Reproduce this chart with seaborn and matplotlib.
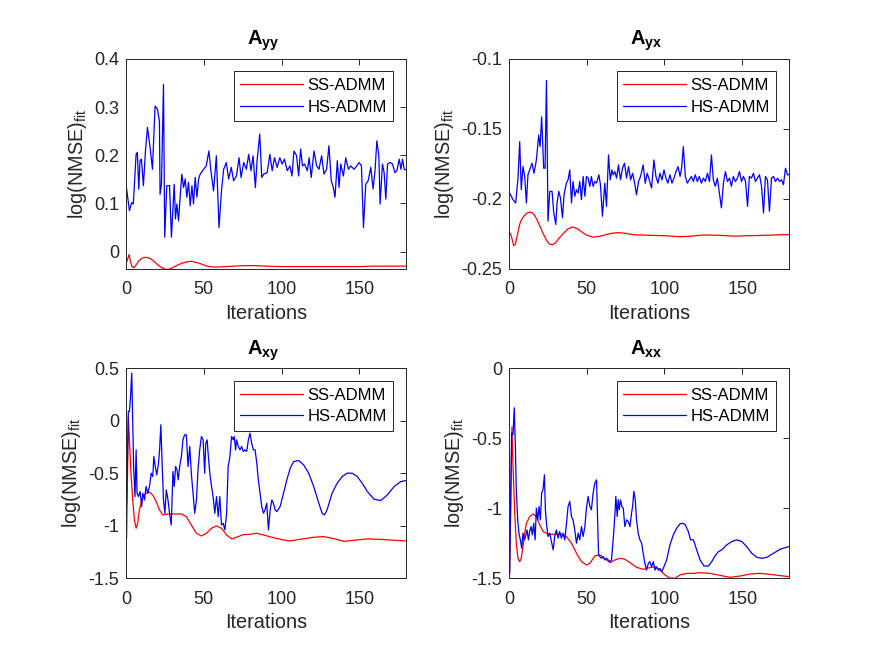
"""
Convergence of log(NMSE)_fit for SS-ADMM and HS-ADMM on the four blocks
A_yy, A_yx, A_xy, A_xx (values read off the original figure).
"""
import matplotlib
matplotlib.use('Agg')
import matplotlib.pyplot as plt
import seaborn as sns
from matplotlib.ticker import FuncFormatter

# --- Data ---
# A_yy
ss_yy_x = [0, 2, 3, 4, 5, 6, 8, 10, 12, 14, 16, 18, 20, 22, 24, 26, 28, 30, 33, 36, 39, 42, 45, 48,
           51, 54, 58, 64, 70, 76, 82, 90, 100, 110, 120, 130, 140, 150, 160, 170, 180]
ss_yy_y = [-0.026, -0.006, -0.022, -0.032, -0.033, -0.030, -0.020, -0.014, -0.012, -0.012, -0.015,
           -0.020, -0.026, -0.031, -0.035, -0.037, -0.036, -0.033, -0.028, -0.024, -0.021, -0.020,
           -0.022, -0.025, -0.029, -0.031, -0.032, -0.031, -0.030, -0.029, -0.029, -0.030, -0.031,
           -0.031, -0.031, -0.031, -0.031, -0.031, -0.030, -0.030, -0.030]
hs_yy_x = [0, 2.2, 3.7, 4.7, 6.5, 7.3, 8.2, 9, 9.9, 11.2,
           12.5, 13.8, 15.5, 17, 18.7, 20.2, 21.5, 21.9, 22.8, 24.1,
           24.9, 26.2, 28, 29.2, 30.1, 31, 31.8, 32.7, 33.8, 34.8,
           35.9, 37, 38.1, 39.1, 40.2, 41.3, 42.4, 43.4, 44.5, 45.6,
           46.7, 47.7, 49.9, 51.6, 53.3, 54.6, 56.3, 58.1, 59.8, 61.5,
           62.8, 64.5, 66, 67.7, 69.2, 71, 72.7, 74, 75.7, 77.4,
           78.9, 80.4, 81.7, 83.2, 84.3, 86, 87.3, 88.6, 90.8, 92.5,
           94, 95.5, 97.2, 98.9, 100.4, 101.9, 103.7, 105.4, 106.7, 108,
           109.7, 111, 112.3, 113.5, 114.8, 116.6, 117.8, 119.1, 120.9, 122.6,
           124.1, 125.8, 127.3, 129, 130.5, 132, 133.3, 134.4, 135.9, 137,
           138.1, 139.8, 141.3, 143, 144.5, 146.7, 148.4, 149.9, 151.4, 152.7,
           154.2, 155.7, 157.4, 158.9, 160.2, 161.3, 162.6, 163.4, 164.9, 166,
           167.1, 168.2, 169.9, 171.4, 172.9, 174.2, 175.7, 176.8, 177.8, 178.9,
           180]
hs_yy_y = [0.140, 0.085, 0.102, 0.099, 0.202, 0.206, 0.130, 0.189, 0.192, 0.137,
           0.209, 0.258, 0.216, 0.171, 0.302, 0.296, 0.271, 0.119, 0.140, 0.347,
           0.030, 0.137, 0.137, 0.030, 0.085, 0.140, 0.068, 0.099, 0.064, 0.113,
           0.161, 0.133, 0.151, 0.113, 0.144, 0.095, 0.137, 0.099, 0.154, 0.113,
           0.151, 0.161, 0.171, 0.178, 0.209, 0.168, 0.126, 0.199, 0.050, 0.130,
           0.171, 0.185, 0.151, 0.175, 0.147, 0.157, 0.195, 0.154, 0.185, 0.171,
           0.202, 0.168, 0.199, 0.133, 0.189, 0.244, 0.154, 0.161, 0.164, 0.202,
           0.168, 0.195, 0.175, 0.195, 0.182, 0.192, 0.168, 0.178, 0.157, 0.209,
           0.199, 0.157, 0.213, 0.178, 0.182, 0.168, 0.195, 0.154, 0.209, 0.178,
           0.171, 0.199, 0.161, 0.171, 0.220, 0.147, 0.133, 0.113, 0.189, 0.133,
           0.182, 0.157, 0.195, 0.171, 0.178, 0.171, 0.178, 0.185, 0.178, 0.050,
           0.140, 0.147, 0.175, 0.130, 0.171, 0.230, 0.199, 0.099, 0.182, 0.164,
           0.109, 0.182, 0.185, 0.182, 0.164, 0.168, 0.192, 0.171, 0.192, 0.171,
           0.170]

# A_yx
ss_yx_x = [0, 1, 2, 3, 4, 5, 6, 7, 8, 10, 12, 14, 16, 18, 20, 22, 24, 26, 28, 30, 32, 35, 38, 41,
           44, 47, 50, 54, 58, 62, 66, 70, 75, 80, 90, 100, 110, 118, 125, 135, 145, 155, 165,
           175, 180]
ss_yx_y = [-0.2245, -0.2250, -0.2290, -0.2335, -0.2330, -0.2280, -0.2230, -0.2180, -0.2150,
           -0.2120, -0.2100, -0.2097, -0.2110, -0.2150, -0.2200, -0.2250, -0.2295, -0.2325,
           -0.2330, -0.2315, -0.2285, -0.2250, -0.2215, -0.2203, -0.2215, -0.2240, -0.2262,
           -0.2275, -0.2270, -0.2258, -0.2248, -0.2243, -0.2248, -0.2258, -0.2262, -0.2265,
           -0.2272, -0.2268, -0.2260, -0.2262, -0.2268, -0.2265, -0.2262, -0.2258, -0.2257]
hs_yx_x = [0.4, 2.6, 4.3, 5.8, 6.9, 7.9, 9.0, 10.1, 11.2, 12.2,
           13.3, 14.8, 16.1, 17.6, 19.1, 20.0, 21.0, 22.3, 23.2, 24.1,
           25.1, 26.2, 27.7, 28.8, 30.1, 30.9, 32.0, 33.1, 34.4, 35.4,
           36.9, 38.0, 39.1, 40.2, 41.2, 42.3, 43.4, 44.5, 45.5, 46.6,
           47.7, 48.8, 49.8, 50.9, 52.0, 53.0, 54.1, 55.2, 56.3, 57.8,
           58.8, 60.1, 61.6, 62.7, 64.0, 65.1, 66.2, 67.0, 68.1, 69.2,
           70.4, 71.7, 73.0, 74.3, 75.6, 76.9, 78.2, 79.5, 80.8, 82.0,
           83.3, 84.6, 86.3, 87.6, 88.9, 90.2, 91.7, 93.2, 94.5, 95.8,
           97.1, 98.4, 99.7, 100.9, 102.2, 103.5, 104.8, 106.1, 107.4, 108.7,
           110.0, 111.0, 112.1, 113.4, 114.7, 116.0, 117.3, 118.6, 119.8, 121.1,
           122.4, 123.7, 125.0, 126.3, 127.6, 128.9, 130.2, 131.4, 132.7, 134.0,
           135.3, 136.6, 137.9, 139.2, 140.5, 141.8, 143.0, 144.3, 145.6, 146.9,
           148.2, 149.5, 150.8, 152.1, 153.4, 154.6, 155.9, 157.2, 158.5, 159.8,
           161.1, 162.4, 163.7, 164.9, 166.2, 167.5, 168.8, 170.1, 171.4, 172.7,
           174.0, 175.3, 176.5, 177.8, 179.1, 180]
hs_yx_y = [-0.1960, -0.2007, -0.2031, -0.1853, -0.1592, -0.1936, -0.1770, -0.1841, -0.2031, -0.1829,
           -0.1794, -0.1746, -0.1818, -0.1723, -0.1545, -0.1628, -0.1415, -0.1782, -0.1782, -0.1154,
           -0.2161, -0.1948, -0.1948, -0.2102, -0.2185, -0.2031, -0.1948, -0.1995, -0.2137, -0.1972,
           -0.1889, -0.1865, -0.1794, -0.2031, -0.1877, -0.1983, -0.1936, -0.1960, -0.1877, -0.2007,
           -0.1841, -0.1983, -0.1841, -0.1853, -0.1912, -0.1841, -0.1912, -0.1877, -0.1889, -0.1829,
           -0.1900, -0.2126, -0.1889, -0.2055, -0.1687, -0.1865, -0.1794, -0.1829, -0.1806, -0.1853,
           -0.1758, -0.1865, -0.1782, -0.1746, -0.1853, -0.1770, -0.1865, -0.1818, -0.1889, -0.1972,
           -0.1877, -0.1841, -0.1758, -0.1889, -0.1818, -0.1865, -0.1924, -0.1723, -0.1841, -0.1889,
           -0.1818, -0.1865, -0.1794, -0.1853, -0.1889, -0.1829, -0.1889, -0.1853, -0.1806, -0.1770,
           -0.1841, -0.1782, -0.1628, -0.1841, -0.1889, -0.1865, -0.1841, -0.1877, -0.1829, -0.1877,
           -0.1841, -0.1889, -0.1853, -0.1877, -0.1818, -0.1877, -0.1687, -0.1865, -0.1912, -0.1853,
           -0.1960, -0.2066, -0.1889, -0.1806, -0.1877, -0.1853, -0.1912, -0.1841, -0.1877, -0.1853,
           -0.1806, -0.1877, -0.1841, -0.1877, -0.2055, -0.1841, -0.1853, -0.1818, -0.1877, -0.1853,
           -0.1829, -0.1912, -0.2102, -0.1841, -0.1865, -0.2090, -0.1853, -0.1841, -0.1877, -0.1853,
           -0.1877, -0.1865, -0.1900, -0.1782, -0.1829, -0.1829]

# A_xy
ss_xy_x = [0.4, 1.5, 2.2, 3.2, 4.3, 5.4, 6.5, 7.5, 8.6, 9.7, 10.8, 12.9, 15.1, 17.2, 19.4, 21.5,
           23.7, 26.9, 31.3, 35.6, 38.8, 42.0, 45.3, 48.5, 51.7, 55.0, 58.2, 61.4, 64.7, 67.9,
           71.1, 75.4, 79.7, 84.0, 88.4, 94.8, 101.3, 105.6, 112.0, 120.7, 127.2, 133.6, 140.1,
           146.6, 155.2, 163.8, 172.4, 180]
ss_xy_y = [-1.121, 0.041, -0.182, -0.500, -0.755, -0.946, -1.025, -0.978, -0.850, -0.787,
           -0.723, -0.691, -0.682, -0.707, -0.771, -0.850, -0.898, -0.889, -0.889, -0.889,
           -0.914, -0.994, -1.073, -1.099, -1.073, -1.025, -1.003, -1.025, -1.089, -1.127,
           -1.111, -1.086, -1.083, -1.073, -1.089, -1.115, -1.137, -1.146, -1.131, -1.111,
           -1.105, -1.124, -1.150, -1.140, -1.127, -1.131, -1.140, -1.146]
hs_xy_x = [0.4, 1.5, 2.2, 2.8, 3.7, 4.3, 4.9, 5.8, 6.5, 7.1,
           8.0, 9.1, 10.1, 10.8, 11.9, 12.9, 14.0, 15.1, 16.2, 17.2,
           17.9, 18.8, 19.8, 20.9, 21.6, 22.4, 23.3, 24.1, 25.0, 25.9,
           27.0, 28.0, 29.1, 30.2, 31.0, 31.9, 32.8, 33.6, 34.5, 35.6,
           36.6, 37.7, 38.8, 39.9, 41.0, 42.0, 43.1, 44.2, 45.3, 46.3,
           47.4, 48.5, 49.6, 50.6, 51.3, 52.2, 52.8, 53.9, 55.0, 56.0,
           57.1, 58.2, 59.3, 60.3, 61.4, 62.5, 63.6, 64.7, 65.7, 66.8,
           67.9, 69.0, 69.6, 70.5, 71.1, 72.2, 73.3, 74.4, 75.4, 76.5,
           77.6, 78.7, 79.7, 80.8, 81.9, 83.0, 84.1, 85.1, 86.2, 87.3,
           88.4, 89.4, 90.5, 91.6, 92.7, 93.8, 94.8, 95.9, 97.0, 99.1,
           101.3, 103.4, 105.6, 107.8, 111.0, 114.2, 117.5, 120.7, 124.0, 126.1,
           127.6, 129.3, 132.5, 135.8, 139.0, 142.2, 145.5, 148.7, 151.9, 155.2,
           159.5, 163.8, 168.1, 172.4, 176.7, 180]
hs_xy_y = [-0.787, 0.089, 0.089, 0.201, 0.455, 0.010, -0.436, -0.723, -0.277, -0.691,
           -0.723, -0.675, -0.818, -0.691, -0.755, -0.627, -0.691, -0.627, -0.500, -0.532,
           -0.341, -0.436, -0.516, -0.404, -0.277, -0.038, -0.436, -0.755, -0.882, -0.659,
           -0.755, -0.882, -0.994, -0.484, -0.627, -0.436, -0.468, -0.564, -0.436, -0.341,
           -0.182, -0.134, -0.134, -0.436, -0.245, -0.500, -0.691, -0.882, -0.755, -0.468,
           -0.277, -0.150, -0.182, -0.500, -0.213, -0.182, -0.309, -0.500, -0.627, -0.723,
           -0.882, -0.723, -0.914, -0.723, -0.994, -0.978, -1.041, -0.882, -0.436, -0.341,
           -0.150, -0.182, -0.150, -0.277, -0.182, -0.245, -0.277, -0.245, -0.293, -0.277,
           -0.293, -0.182, -0.118, -0.213, -0.277, -0.277, -0.404, -0.564, -0.691, -0.818,
           -0.882, -0.850, -0.787, -1.041, -0.850, -0.755, -0.787, -0.850, -0.866, -0.818,
           -0.691, -0.564, -0.452, -0.389, -0.379, -0.420, -0.500, -0.627, -0.787, -0.882,
           -0.898, -0.850, -0.691, -0.596, -0.532, -0.500, -0.500, -0.532, -0.596, -0.675,
           -0.748, -0.761, -0.707, -0.627, -0.580, -0.570]

# A_xx
ss_xx_x = [0.4, 1.9, 2.6, 3.7, 4.7, 5.8, 6.9, 7.9, 9.0, 10.1, 11.2, 13.3, 15.5, 17.6, 19.8, 21.9,
           25.1, 29.4, 33.7, 36.9, 40.2, 43.4, 46.6, 49.8, 52.0, 55.2, 58.4, 61.6, 64.9, 68.1,
           71.3, 74.5, 77.8, 82.0, 86.3, 90.6, 93.9, 97.1, 100.3, 103.5, 106.7, 110.0, 114.3,
           118.6, 122.9, 129.3, 135.7, 142.1, 148.6, 155.0, 161.5, 167.9, 174.4, 180]
ss_xx_y = [-1.478, -0.419, -0.701, -1.036, -1.251, -1.359, -1.383, -1.359, -1.275, -1.179,
           -1.108, -1.060, -1.041, -1.060, -1.120, -1.167, -1.187, -1.187, -1.184, -1.203,
           -1.251, -1.323, -1.383, -1.407, -1.395, -1.342, -1.335, -1.359, -1.390, -1.371,
           -1.359, -1.366, -1.390, -1.423, -1.438, -1.426, -1.419, -1.443, -1.478, -1.500,
           -1.502, -1.478, -1.467, -1.467, -1.462, -1.467, -1.481, -1.495, -1.486, -1.471,
           -1.467, -1.474, -1.483, -1.490]
hs_xx_x = [0.4, 1.7, 2.6, 3.4, 4.1, 4.7, 5.6, 6.4, 7.3, 8.2,
           9.0, 9.9, 10.7, 11.6, 12.5, 13.3, 14.2, 15.0, 15.9, 16.8,
           17.6, 18.5, 19.3, 20.2, 21.0, 21.9, 22.8, 23.4, 24.1, 25.1,
           26.2, 27.3, 28.4, 29.4, 30.5, 31.6, 32.6, 33.7, 34.8, 35.9,
           36.9, 38.0, 39.1, 40.2, 41.2, 42.3, 43.4, 44.5, 45.5, 46.6,
           47.7, 48.8, 49.8, 50.9, 52.0, 53.0, 54.1, 55.2, 56.3, 56.9,
           57.6, 58.4, 59.5, 60.6, 61.6, 62.7, 63.8, 64.9, 65.9, 67.0,
           68.1, 68.7, 69.6, 70.2, 70.9, 71.7, 72.6, 73.5, 74.5, 75.6,
           76.7, 77.8, 78.8, 79.5, 80.3, 81.2, 82.0, 83.1, 84.2, 85.3,
           86.3, 87.4, 88.5, 89.6, 90.6, 91.7, 92.8, 93.9, 94.9, 96.0,
           97.1, 98.2, 99.2, 101.4, 103.5, 105.7, 107.8, 110.0, 111.7, 113.4,
           115.3, 116.8, 118.6, 120.7, 122.9, 125.4, 128.2, 130.4, 132.5, 134.7,
           136.8, 140.0, 143.3, 146.5, 149.7, 152.9, 156.1, 159.4, 162.6, 165.8,
           170.1, 174.4, 180]
hs_xx_y = [-1.467, -0.462, -0.474, -0.282, -0.557, -0.868, -1.084, -1.179, -1.227, -1.287,
           -1.179, -1.227, -1.203, -1.156, -1.227, -1.167, -1.132, -1.191, -1.108, -1.227,
           -1.000, -1.084, -0.988, -1.084, -0.892, -0.868, -0.761, -1.012, -1.108, -1.203,
           -1.179, -1.239, -1.299, -1.203, -1.156, -1.215, -1.167, -1.215, -1.179, -1.227,
           -1.120, -0.988, -0.952, -1.060, -1.084, -1.156, -1.251, -1.179, -1.227, -1.132,
           -1.203, -1.132, -1.000, -0.916, -0.988, -1.012, -0.892, -0.821, -0.797, -1.036,
           -1.335, -1.347, -1.359, -1.347, -1.371, -1.359, -1.371, -1.383, -1.371, -1.227,
           -1.048, -0.916, -1.060, -0.940, -1.012, -0.940, -0.988, -1.000, -1.132, -1.084,
           -1.096, -1.132, -1.036, -0.988, -0.880, -0.940, -1.084, -1.179, -1.227, -1.251,
           -1.323, -1.395, -1.443, -1.395, -1.383, -1.419, -1.383, -1.443, -1.419, -1.443,
           -1.431, -1.455, -1.431, -1.371, -1.263, -1.191, -1.144, -1.112, -1.108, -1.120,
           -1.167, -1.227, -1.227, -1.299, -1.371, -1.414, -1.414, -1.383, -1.342, -1.311,
           -1.299, -1.263, -1.239, -1.227, -1.239, -1.275, -1.323, -1.352, -1.359, -1.352,
           -1.323, -1.294, -1.275]

subscripts = ['yy', 'yx', 'xy', 'xx']
ylims = [(-0.035, 0.4), (-0.25, -0.1), (-1.5, 0.5), (-1.5, 0)]
yticks = [[0, 0.1, 0.2, 0.3, 0.4], [-0.25, -0.2, -0.15, -0.1],
          [-1.5, -1, -0.5, 0, 0.5], [-1.5, -1, -0.5, 0]]
xticks = [0, 50, 100, 150]
series = [(ss_yy_x, ss_yy_y, hs_yy_x, hs_yy_y),
          (ss_yx_x, ss_yx_y, hs_yx_x, hs_yx_y),
          (ss_xy_x, ss_xy_y, hs_xy_x, hs_xy_y),
          (ss_xx_x, ss_xx_y, hs_xx_x, hs_xx_y)]

# --- Style ---
sns.set_theme(style='white')
plt.rcParams['font.family'] = ['Liberation Sans', 'DejaVu Sans']
plt.rcParams['mathtext.fontset'] = 'custom'
plt.rcParams['mathtext.rm'] = 'Liberation Sans'
plt.rcParams['mathtext.it'] = 'Liberation Sans:italic'
plt.rcParams['mathtext.bf'] = 'Liberation Sans:bold'
plt.rcParams['axes.unicode_minus'] = False
axis_col = '#262626'

fig = plt.figure(figsize=(8.72, 6.54), dpi=100)
fig.patch.set_facecolor('white')
lefts = [0.1445, 0.5837, 0.1445, 0.5837]
bottoms = [0.5894, 0.5894, 0.1162, 0.1162]

for i in range(4):
    ax = fig.add_axes([lefts[i], bottoms[i], 0.321, 0.3205])
    ss_x, ss_y, hs_x, hs_y = series[i]
    sns.lineplot(x=ss_x, y=ss_y, ax=ax, color='#ff0000', linewidth=0.9,
                 label='SS-ADMM', estimator=None, sort=False)
    sns.lineplot(x=hs_x, y=hs_y, ax=ax, color='#0000ff', linewidth=0.9,
                 label='HS-ADMM', estimator=None, sort=False)

    ax.set_xlim(0, 180)
    ax.set_ylim(*ylims[i])
    ax.set_xticks(xticks)
    ax.set_yticks(yticks[i])
    ax.yaxis.set_major_formatter(FuncFormatter(lambda v, p: f'{v:g}'))
    ax.xaxis.set_major_formatter(FuncFormatter(lambda v, p: f'{v:g}'))
    ax.set_facecolor('white')
    for sp in ax.spines.values():
        sp.set_visible(True)
        sp.set_color(axis_col)
        sp.set_linewidth(0.7)
    ax.tick_params(axis='both', direction='in', top=True, right=True, length=4,
                   width=0.7, color=axis_col, labelcolor=axis_col, labelsize=13)
    ax.tick_params(axis='x', pad=9)
    ax.tick_params(axis='y', pad=4.8)
    ax.grid(False)

    ax.set_title(r'$\mathbf{A}_{\mathbf{' + subscripts[i] + '}}$', fontsize=14.5,
                 color='black', pad=10, x=0.49)
    ax.set_xlabel('Iterations', fontsize=14.3, color=axis_col, labelpad=4)
    ax.set_ylabel(r'log(NMSE)$_{\mathrm{fit}}$', fontsize=14.3, color=axis_col, labelpad=4)

    leg = ax.legend(loc='upper right', fontsize=12, frameon=True, fancybox=False,
                    framealpha=1, edgecolor=axis_col, handlelength=3.74,
                    handletextpad=0.28, borderpad=0.4, labelspacing=0.4,
                    borderaxespad=0.75)
    leg.get_frame().set_linewidth(0.7)
    for t in leg.get_texts():
        t.set_color('black')

fig.savefig('out.png', dpi=100, facecolor='white')
